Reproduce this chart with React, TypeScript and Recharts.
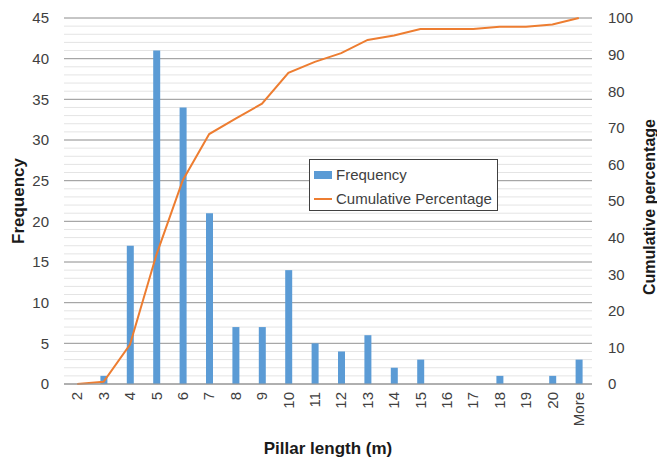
import React from "react";
import {
  ComposedChart,
  Bar,
  Line,
  XAxis,
  YAxis,
  CartesianGrid,
  Legend,
  Label,
} from "recharts";

// Pillar length bins (m)
const bins = ["2", "3", "4", "5", "6", "7", "8", "9", "10", "11", "12", "13", "14", "15", "16", "17", "18", "19", "20", "More"];

// Number of pillars in each bin
const frequency = [0, 1, 17, 41, 34, 21, 7, 7, 14, 5, 4, 6, 2, 3, 0, 0, 1, 0, 1, 3];

// Running cumulative share of pillars (%)
const cumulativePercentage = [0, 0.6, 10.8, 35.3, 55.7, 68.3, 72.5, 76.6, 85.0, 88.0, 90.4, 94.0, 95.2, 97.0, 97.0, 97.0, 97.6, 97.6, 98.2, 100];

const leftTicks = [0, 5, 10, 15, 20, 25, 30, 35, 40, 45];
const minorTicks = Array.from({ length: 46 }, (_, i) => i);
const rightTicks = [0, 10, 20, 30, 40, 50, 60, 70, 80, 90, 100];
const FREQ_MAX = 45;

const data = bins.map((bin, i) => ({
  bin,
  frequency: frequency[i],
  cumulative: cumulativePercentage[i],
}));

const FONT = "'Liberation Sans', Arial, sans-serif";
const BLUE = "#5B9BD5";
const ORANGE = "#ED7D31";
const TICK_COLOR = "#404040";
const TITLE_COLOR = "#1a1a1a";

// Minor grid rows: one per frequency unit, placed through the left axis scale
const minorRows = (props: any) => {
  const { yAxis, offset } = props;
  if (yAxis && typeof yAxis.scale === "function") {
    return minorTicks.map((v) => yAxis.scale(v));
  }
  return minorTicks.map((v) => offset.top + offset.height * (1 - v / FREQ_MAX));
};

const XTick = (props: any) => {
  const { x, y, payload } = props;
  return (
    <g transform={`translate(${x},${y})`}>
      <text
        x={0}
        y={0}
        dy="0.35em"
        textAnchor="end"
        transform="rotate(-90)"
        fill={TICK_COLOR}
        fontSize={15}
        fontFamily={FONT}
      >
        {payload.value}
      </text>
    </g>
  );
};

const LegendBox = () => (
  <div
    style={{
      border: "1px solid #404040",
      background: "#fff",
      width: 189,
      height: 52,
      boxSizing: "border-box",
      padding: "3px 0 0 4px",
      fontFamily: FONT,
      fontSize: 15,
      color: TICK_COLOR,
      lineHeight: "24px",
    }}
  >
    <div style={{ display: "flex", alignItems: "center", height: 24 }}>
      <span style={{ display: "inline-block", width: 18, height: 8, background: BLUE, marginRight: 4 }} />
      <span>Frequency</span>
    </div>
    <div style={{ display: "flex", alignItems: "center", height: 24 }}>
      <span style={{ display: "inline-block", width: 18, height: 2, background: ORANGE, marginRight: 4 }} />
      <span>Cumulative Percentage</span>
    </div>
  </div>
);

export default function App() {
  return (
    <div style={{ position: "absolute", left: 0, top: 0, width: 657, height: 462, background: "#fff" }}>
      <ComposedChart
        width={657}
        height={462}
        data={data}
        margin={{ top: 18, right: 0, bottom: 0, left: 0 }}
        barCategoryGap={0}
      >
        <CartesianGrid
          yAxisId="left"
          vertical={false}
          stroke="#e4e4e4"
          strokeWidth={1}
          syncWithTicks={false}
          horizontalCoordinatesGenerator={minorRows}
        />
        <CartesianGrid yAxisId="left" vertical={false} stroke="#9a9a9a" strokeWidth={1} />
        <XAxis
          dataKey="bin"
          interval={0}
          height={78}
          tick={<XTick />}
          tickLine={false}
          axisLine={{ stroke: "#9a9a9a" }}
        >
          <Label
            content={(p: any) => {
              const vb = p.viewBox || {};
              return (
                <text
                  x={vb.x + vb.width / 2}
                  y={454}
                  textAnchor="middle"
                  fontFamily={FONT}
                  fontWeight="bold"
                  fontSize={17}
                  fill={TITLE_COLOR}
                >
                  Pillar length (m)
                </text>
              );
            }}
          />
        </XAxis>
        <YAxis
          yAxisId="left"
          domain={[0, FREQ_MAX]}
          ticks={leftTicks}
          interval={0}
          width={64}
          axisLine={false}
          tickLine={false}
          tickSize={0}
          tickMargin={15}
          tick={{ fill: TICK_COLOR, fontSize: 15, fontFamily: FONT }}
        >
          <Label
            content={(p: any) => {
              const vb = p.viewBox || {};
              const cy = vb.y + vb.height / 2;
              return (
                <text
                  x={18}
                  y={cy}
                  dy="0.35em"
                  textAnchor="middle"
                  transform={`rotate(-90, 18, ${cy})`}
                  fontFamily={FONT}
                  fontWeight="bold"
                  fontSize={17}
                  fill={TITLE_COLOR}
                >
                  Frequency
                </text>
              );
            }}
          />
        </YAxis>
        <YAxis
          yAxisId="right"
          orientation="right"
          domain={[0, 100]}
          ticks={rightTicks}
          interval={0}
          width={65}
          axisLine={false}
          tickLine={false}
          tickSize={0}
          tickMargin={16}
          tick={{ fill: TICK_COLOR, fontSize: 15, fontFamily: FONT, textAnchor: "start" }}
        >
          <Label
            content={(p: any) => {
              const vb = p.viewBox || {};
              const cy = vb.y + vb.height / 2 + 6;
              return (
                <text
                  x={649}
                  y={cy}
                  dy="0.35em"
                  textAnchor="middle"
                  transform={`rotate(-90, 649, ${cy})`}
                  fontFamily={FONT}
                  fontWeight="bold"
                  fontSize={16}
                  fill={TITLE_COLOR}
                >
                  Cumulative percentage
                </text>
              );
            }}
          />
        </YAxis>
        <Bar
          yAxisId="left"
          dataKey="frequency"
          name="Frequency"
          fill={BLUE}
          barSize={7}
          isAnimationActive={false}
        />
        <Line
          yAxisId="right"
          dataKey="cumulative"
          name="Cumulative Percentage"
          type="linear"
          stroke={ORANGE}
          strokeWidth={2}
          dot={false}
          activeDot={false}
          isAnimationActive={false}
        />
        <Legend
          layout="vertical"
          align="center"
          verticalAlign="middle"
          content={<LegendBox />}
          wrapperStyle={{ left: 309, top: 159, width: 191, height: 54 }}
        />
      </ComposedChart>
    </div>
  );
}
